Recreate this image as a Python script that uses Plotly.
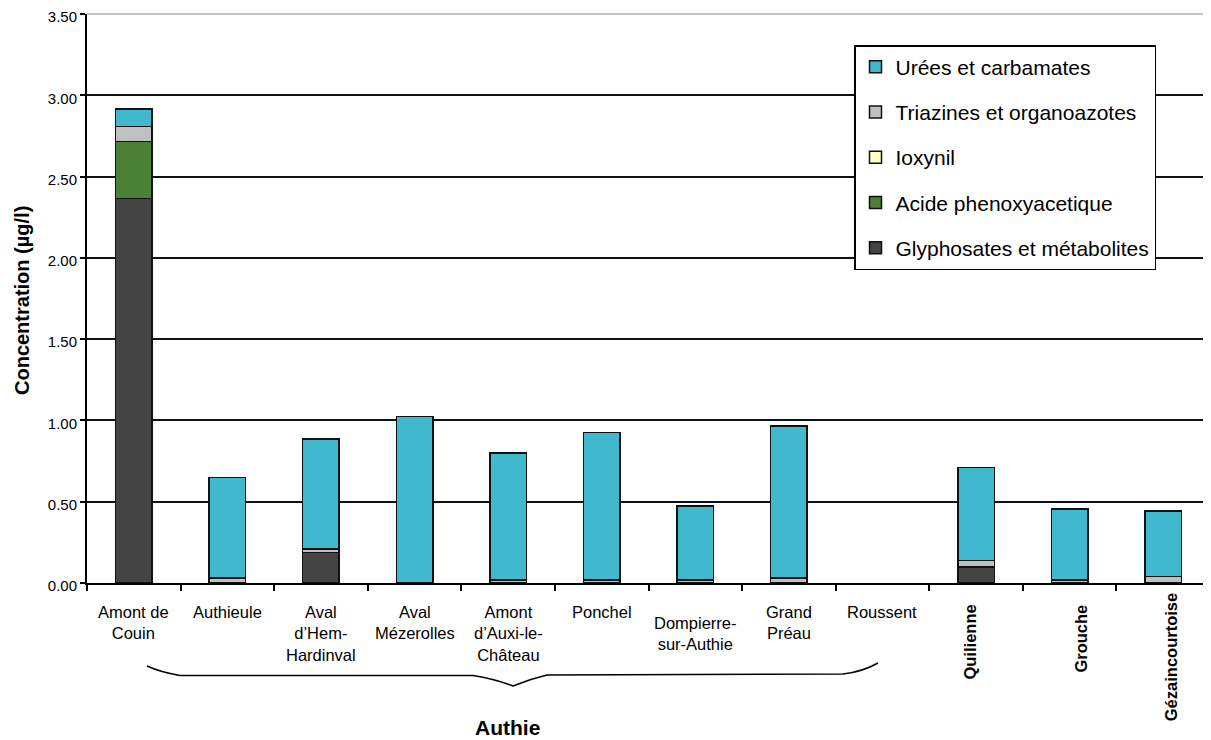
import plotly.graph_objects as go

categories = ["Amont de Couin", "Authieule", "Aval d'Hem-Hardinval", "Aval Mézerolles",
              "Amont d'Auxi-le-Château", "Ponchel", "Dompierre-sur-Authie", "Grand Préau",
              "Roussent", "Quilienne", "Grouche", "Gézaincourtoise"]
tick_labels = ["Amont de<br>Couin", "Authieule", "Aval<br>d’Hem-<br>Hardinval", "Aval<br>Mézerolles",
               "Amont<br>d’Auxi-le-<br>Château", "Ponchel", "Dompierre-<br>sur-Authie", "Grand<br>Préau",
               "Roussent", "Quilienne", "Grouche", "Gézaincourtoise"]
rotated = [False] * 9 + [True] * 3

glyphosates = [2.366, 0, 0.189, 0, 0, 0, 0, 0, 0, 0.098, 0, 0]
acide_phenoxy = [0.349, 0, 0, 0, 0, 0, 0, 0, 0, 0, 0, 0]
ioxynil = [0, 0, 0, 0, 0, 0, 0, 0, 0, 0, 0, 0]
triazines = [0.092, 0.031, 0.020, 0, 0.020, 0.020, 0.020, 0.031, 0, 0.039, 0.020, 0.041]
urees = [0.109, 0.619, 0.677, 1.023, 0.780, 0.907, 0.454, 0.935, 0, 0.572, 0.435, 0.402]

y_tickvals = [0, 0.5, 1.0, 1.5, 2.0, 2.5, 3.0, 3.5]
y_ticktext = ["0.00", "0.50", "1.00", "1.50", "2.00", "2.50", "3.00", "3.50"]

series = [
    ("Glyphosates et métabolites", glyphosates, "#444444"),
    ("Acide phenoxyacetique", acide_phenoxy, "#4A8135"),
    ("Ioxynil", ioxynil, "#FFFFC0"),
    ("Triazines et organoazotes", triazines, "#C0C0C0"),
    ("Urées et carbamates", urees, "#40B8CE"),
]

FONT = "Liberation Sans, Arial, sans-serif"

fig = go.Figure()
for i, (name, vals, col) in enumerate(series):
    fig.add_trace(go.Bar(
        x=categories, y=[v if v else None for v in vals], name=name,
        legendgroup=f"g{i}", legendrank=len(series) - i,
        marker=dict(color=col, line=dict(color="#111111", width=1.5)),
    ))

OFF = 8  # page body margin
W, H = 1211 - OFF, 740 - OFF
L, R, T, B = 87 - OFF, 1, 14 - OFF, 157
plot_h = H - T - B
plot_w = W - L - R


def px(xp, yp):
    """page pixel -> paper coords"""
    return (xp - OFF - L) / plot_w, (H - B - (yp - OFF)) / plot_h


annotations = []
label_shift = {6: -11}
rot_top = {9: 603, 10: 603, 11: 591}
rot_dx = {9: -7, 10: 11, 11: 8}
axis_y_page = 583
for i, (cat, lab) in enumerate(zip(categories, tick_labels)):
    if rotated[i]:
        annotations.append(dict(
            x=cat, xref="x", y=0, yref="paper", text=f"<b>{lab}</b>", textangle=-90,
            showarrow=False, xanchor="center", yanchor="top",
            yshift=-(rot_top[i] - axis_y_page), xshift=rot_dx[i],
            font=dict(family=FONT, size=16.5, color="black")))
    else:
        annotations.append(dict(
            x=cat, xref="x", y=0, yref="paper", text=lab,
            showarrow=False, xanchor="center", yanchor="top",
            yshift=-18 + label_shift.get(i, 0),
            font=dict(family=FONT, size=16.5, color="black")))

ax, ay = px(507, 727)
annotations.append(dict(
    x=ax, xref="paper", y=ay, yref="paper",
    text="<b>Authie</b>", showarrow=False, xanchor="center", yanchor="middle",
    font=dict(family=FONT, size=21, color="black")))
tx, ty = px(22, 301)
annotations.append(dict(
    x=tx, xref="paper", y=ty, yref="paper",
    text="<b>Concentration (µg/l)</b>", textangle=-90, showarrow=False,
    xanchor="center", yanchor="middle",
    font=dict(family=FONT, size=20, color="black")))

pts = [(147, 666), (160, 672), (180, 675.5), (473, 675.5), (495, 679), (513, 686),
       (530, 679), (547, 675), (843, 674), (862, 672), (878, 663)]
p = [px(a, b) for a, b in pts]
path = (f"M{p[0][0]},{p[0][1]} Q{p[1][0]},{p[1][1]} {p[2][0]},{p[2][1]} "
        f"L{p[3][0]},{p[3][1]} Q{p[4][0]},{p[4][1]} {p[5][0]},{p[5][1]} "
        f"Q{p[6][0]},{p[6][1]} {p[7][0]},{p[7][1]} L{p[8][0]},{p[8][1]} "
        f"Q{p[9][0]},{p[9][1]} {p[10][0]},{p[10][1]}")

shapes = [
    dict(type="path", xref="paper", yref="paper", path=path,
         line=dict(color="black", width=1.5)),
    dict(type="line", xref="paper", yref="paper", x0=0, x1=1, y0=1, y1=1,
         line=dict(color="#888888", width=1.2), layer="above"),
    dict(type="line", xref="paper", yref="paper", x0=1, x1=1, y0=0, y1=1,
         line=dict(color="#888888", width=1.2), layer="above"),
]

lx, ly = px(854, 45)
fig.update_layout(
    width=W, height=H,
    margin=dict(l=L, r=R, t=T, b=B, autoexpand=False),
    paper_bgcolor="white", plot_bgcolor="white",
    barmode="stack", bargap=0.61,
    font=dict(family=FONT, size=15, color="black"),
    xaxis=dict(type="category", categoryorder="array", categoryarray=categories,
               showticklabels=False, tickson="boundaries", ticks="outside",
               ticklen=6, tickwidth=1.5, tickcolor="black", automargin=False,
               showline=True, linecolor="black", linewidth=2, showgrid=False),
    yaxis=dict(range=[0, 3.5], tickmode="array",
               tickvals=y_tickvals, ticktext=y_ticktext,
               ticks="outside", ticklabeloverflow="allow", automargin=False,
               ticklabelshift=3,
               ticklen=5, tickwidth=1.5, tickcolor="black",
               showline=True, linecolor="black", linewidth=2,
               showgrid=True, gridcolor="#111111", gridwidth=1.5,
               zeroline=False, tickfont=dict(family=FONT, size=15, color="black")),
    legend=dict(x=lx, y=ly, xanchor="left", yanchor="top", bgcolor="white",
                bordercolor="black", borderwidth=1.5,
                traceorder="grouped", tracegroupgap=15,
                font=dict(family=FONT, size=21, color="black")),
    annotations=annotations, shapes=shapes,
)

fig.write_html("out.html")
